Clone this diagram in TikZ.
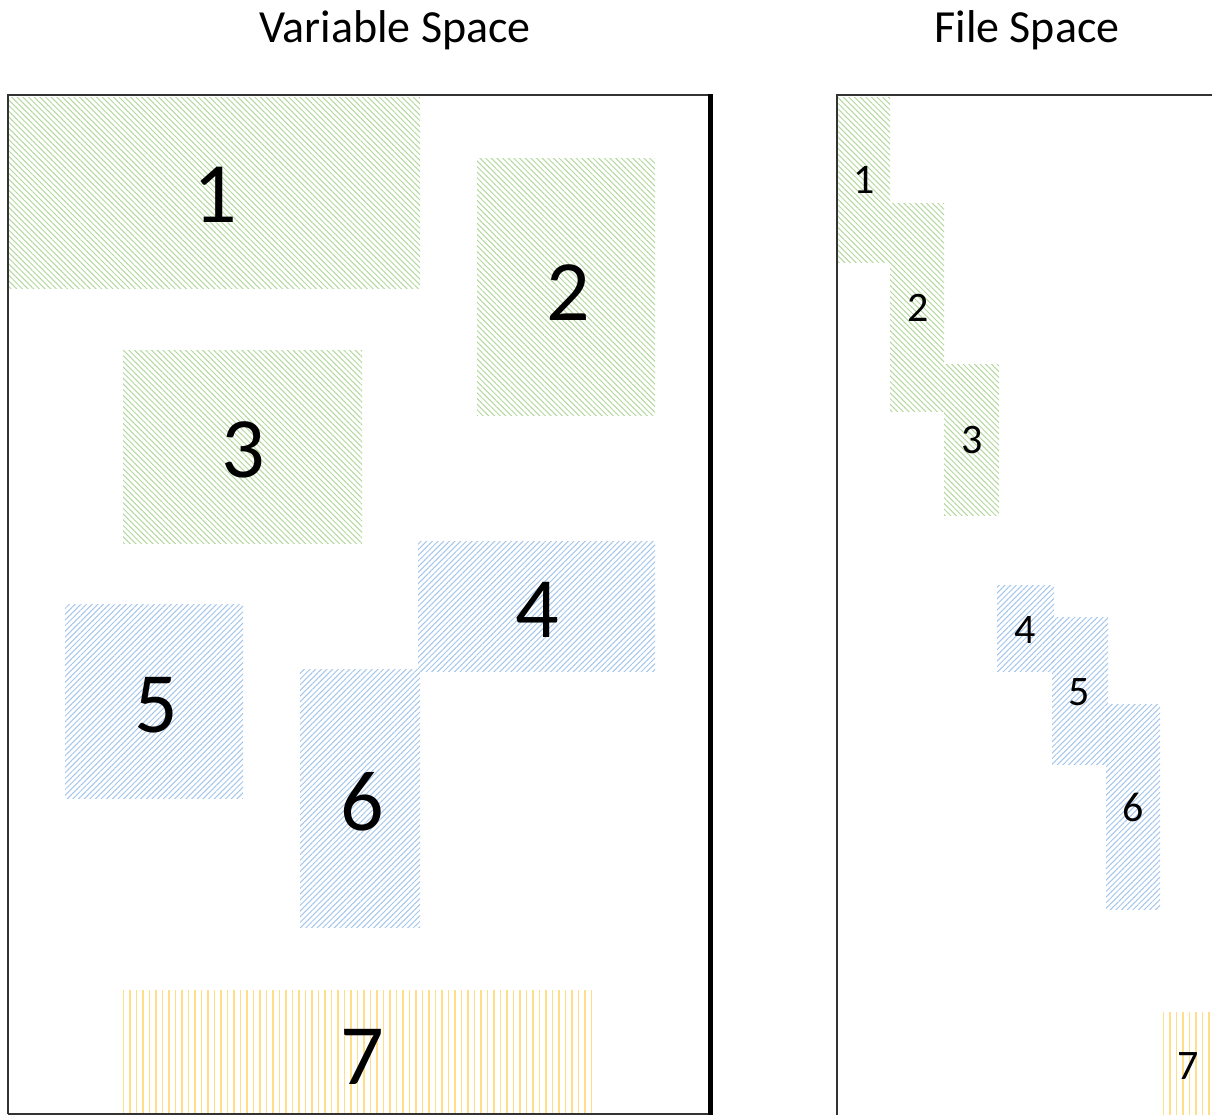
\documentclass[tikz,border=0pt]{standalone}
\usepackage{fontspec}
\setmainfont{Carlito}
\usetikzlibrary{patterns.meta}
\definecolor{hgreen}{RGB}{180,215,158}
\definecolor{hblue}{RGB}{165,198,236}
\definecolor{hyellow}{RGB}{255,222,135}
\begin{document}
\begin{tikzpicture}[x=0.5pt,y=-0.5pt,
  gblock/.style={pattern={Lines[angle=-45,distance=2pt,line width=0.5pt]},pattern color=hgreen},
  bblock/.style={pattern={Lines[angle=45,distance=2pt,line width=0.5pt]},pattern color=hblue},
  yblock/.style={pattern={Lines[angle=90,distance=3.25pt,line width=0.6pt]},pattern color=hyellow},
  big/.style={font=\fontsize{43}{50}\selectfont,inner sep=0pt},
  small/.style={font=\fontsize{21}{25}\selectfont,inner sep=0pt},
  title/.style={font=\fontsize{23}{27}\selectfont,inner sep=0pt},
  frame/.style={draw=black!80,line width=1pt}]
\useasboundingbox (0,0) rectangle (1212,1115);
\clip (0,0) rectangle (1212,1115);
% titles
\node[title] (tv) at (395,30) {Variable Space};
\node[title] (tf) at (1027,30) {File Space};
% variable space blocks
\path[gblock] (8,97) rectangle (420,288);
\path[gblock] (477,158) rectangle (655,415);
\path[gblock] (123,350) rectangle (362,543);
\path[bblock] (418,541) rectangle (655,671);
\path[bblock] (65,604) rectangle (243,798);
\path[bblock] (300,669) rectangle (420,927);
\path[yblock] (123,990) rectangle (592,1113);
\node[big] (v1) at (215,195) {1};
\node[big] (v2) at (568,293) {2};
\node[big] (v3) at (243,450) {3};
\node[big] (v4) at (537,610) {4};
\node[big] (v5) at (156,705) {5};
\node[big] (v6) at (362,802) {6};
\node[big] (v7) at (362,1057) {7};
% file space blocks
\path[gblock] (838,97) rectangle (890,262);
\path[gblock] (890,203) rectangle (944,411);
\path[gblock] (944,364) rectangle (999,515);
\path[bblock] (997,585) rectangle (1054,671);
\path[bblock] (1052,617) rectangle (1108,764);
\path[bblock] (1106,704) rectangle (1160,909);
\path[yblock] (1162,1012) rectangle (1214,1117);
\node[small] (f1) at (864,180) {1};
\node[small] (f2) at (918,308) {2};
\node[small] (f3) at (972,440) {3};
\node[small] (f4) at (1025,630) {4};
\node[small] (f5) at (1079,692) {5};
\node[small] (f6) at (1133,807) {6};
\node[small] (f7) at (1188,1066) {7};
% frames
\draw[frame] (8,1114) -- (8,95) -- (710,95);
\draw[frame] (8,1114) -- (710,1114);
\draw[line width=2.5pt] (710,94) -- (710,1115);
\draw[frame] (837,1116) -- (837,95) -- (1214,95);
\end{tikzpicture}
\end{document}
